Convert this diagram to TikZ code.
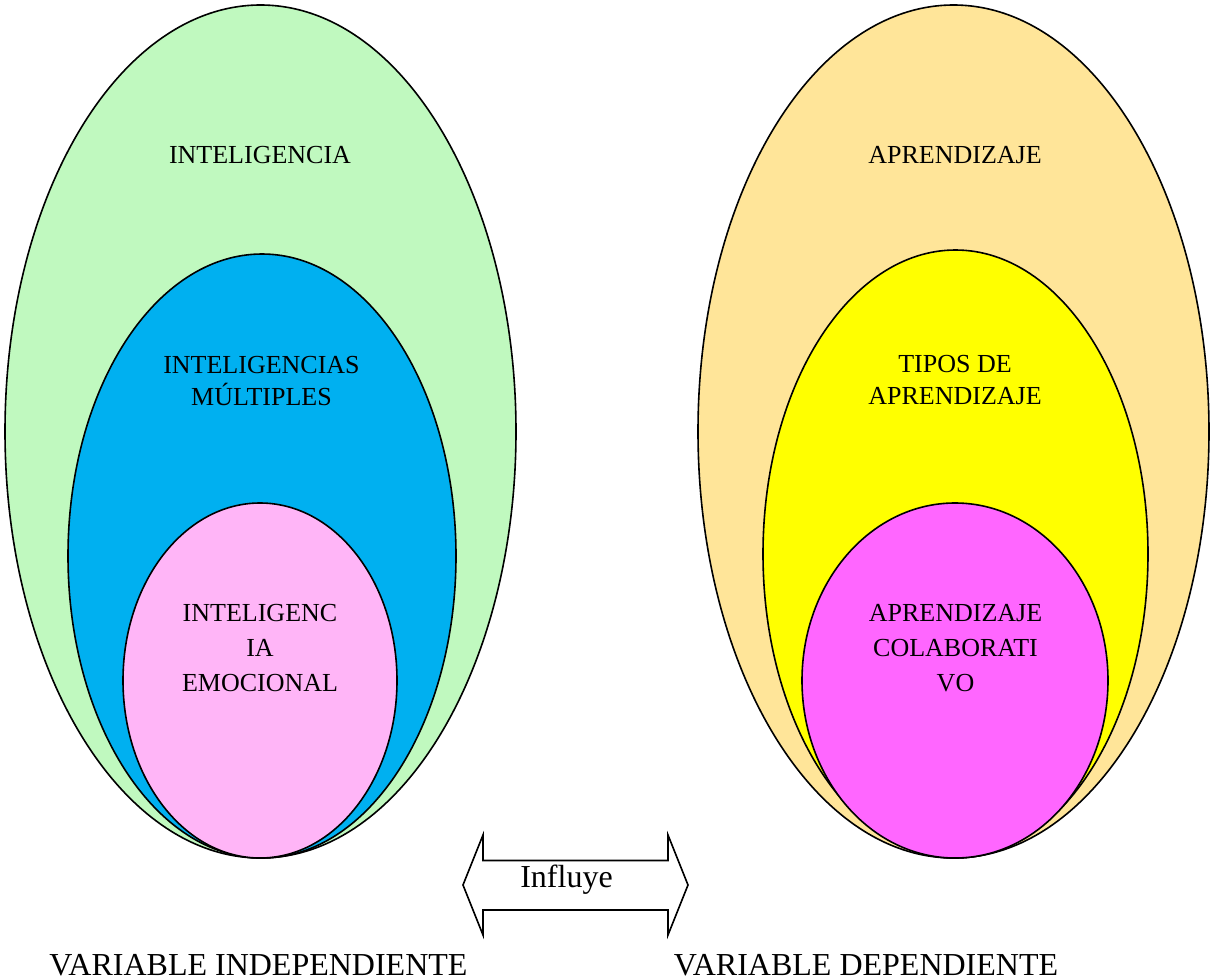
\documentclass[tikz,border=0pt]{standalone}
\usepackage{fontspec}
\setmainfont{Liberation Serif}
\usetikzlibrary{shapes.geometric}
\definecolor{verde}{HTML}{C0F9BF}
\definecolor{azul}{HTML}{00B0F0}
\definecolor{rosa}{HTML}{FFB5F7}
\definecolor{melon}{HTML}{FFE599}
\definecolor{amarillo}{HTML}{FFFF00}
\definecolor{fucsia}{HTML}{FF66FF}
\tikzset{
    elip/.style={ellipse, draw, line width=1.6pt, inner sep=0mm}
}
\tikzset{
    rotulo/.style={align=center, inner sep=0mm, anchor=base, font=\fontsize{26}{31.5}\selectfont},
    rotvar/.style={inner sep=0mm, anchor=base, font=\fontsize{32}{38}\selectfont}
}

\begin{document}
\begin{tikzpicture}[x=1pt, y=-1pt]
    \useasboundingbox (0,0) rectangle (1211,980);

    % independiente
    \node (v1) [elip, fill=verde, minimum width=511pt, minimum height=853pt] at (260.5, 431.5) {};
    \node (v2) [elip, fill=azul, minimum width=388pt, minimum height=604pt] at (262, 556) {};
    \node (v3) [elip, fill=rosa, minimum width=274pt, minimum height=355pt] at (260, 680.5) {};

    % dependiente
    \node (w1) [elip, fill=melon, minimum width=511pt, minimum height=853pt] at (953.5, 431.5) {};
    \node (w2) [elip, fill=amarillo, minimum width=385pt, minimum height=608pt] at (955.5, 554) {};
    \node (w3) [elip, fill=fucsia, minimum width=306pt, minimum height=355pt] at (955, 680.5) {};

    \node (t1) [rotulo] at (260, 163) {INTELIGENCIA};
    \node (t2) [rotulo] at (261.5, 405) {INTELIGENCIAS\\MÚLTIPLES};
    \node (t3) [rotulo, font=\fontsize{26}{35}\selectfont] at (260, 691.7) {INTELIGENC\\IA\\EMOCIONAL};

    \node (s1) [rotulo] at (955, 163) {APRENDIZAJE};
    \node (s2) [rotulo] at (955, 404) {TIPOS DE\\APRENDIZAJE};
    \node (s3) [rotulo, font=\fontsize{26}{35}\selectfont] at (955.5, 691.7) {APRENDIZAJE\\COLABORATI\\VO};

    \draw[line width=1.6pt, line join=miter] (463,885) -- (483,835) -- (483,860.5) -- (668,860.5)
        -- (668,835) -- (688,885) -- (668,935) -- (668,910) -- (483,910) -- (483,935) -- cycle;
    \node (inf) [rotvar] at (566.5, 887) {Influye};

    \node (vi) [rotvar] at (258.5, 975) {VARIABLE INDEPENDIENTE};
    \node (vd) [rotvar] at (866, 975) {VARIABLE DEPENDIENTE};
\end{tikzpicture}
\end{document}
